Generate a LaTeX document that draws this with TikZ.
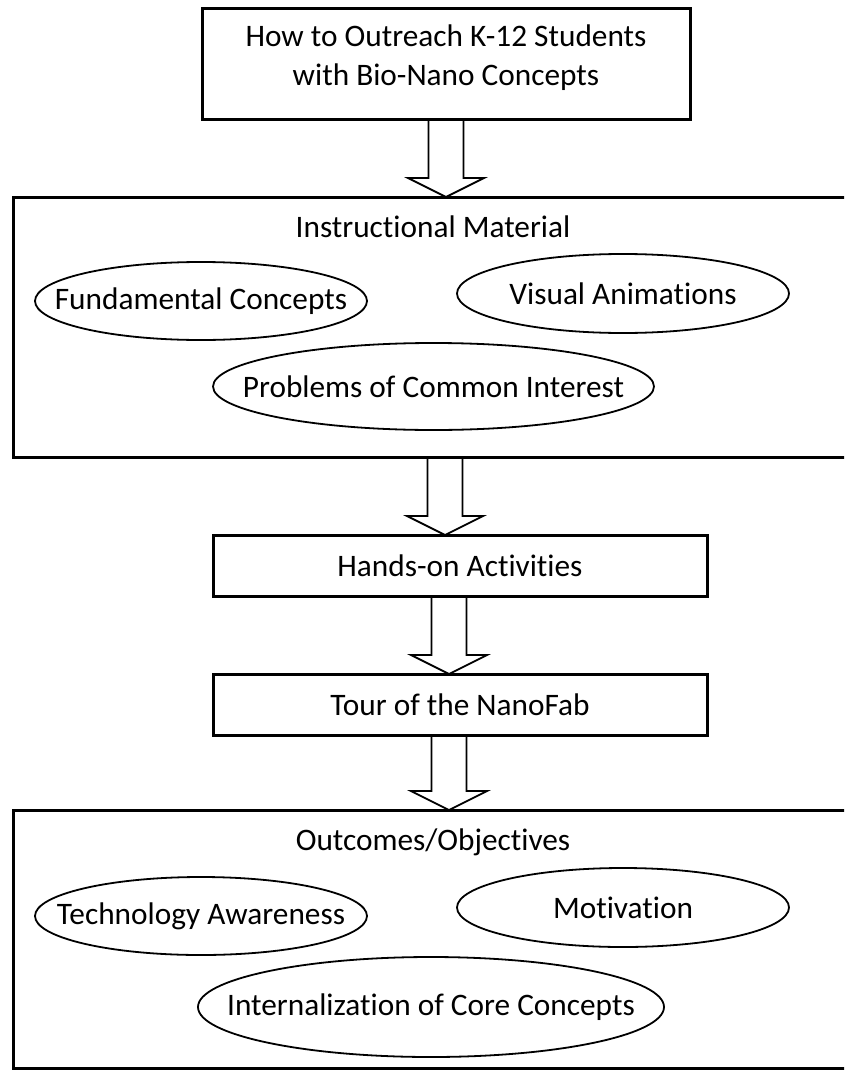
\documentclass[tikz,border=0pt]{standalone}
\usepackage{fontspec}
\setmainfont{Carlito}[Ligatures={NoCommon}]
\usetikzlibrary{shapes.geometric,calc,backgrounds}
\begin{document}
\begin{tikzpicture}[x=1pt,y=-1pt,
  txt/.style={font=\fontsize{31.3}{39}\selectfont, inner sep=0pt, text=black},
  box/.style={draw, line width=3pt, fill=white, rectangle, inner sep=0pt, outer sep=0pt, txt},
  oval/.style={draw, line width=1.8pt, ellipse, inner sep=0pt, outer sep=0pt},
  blockarr/.style={draw, line width=1.8pt, fill=white, line join=miter,
    to path={let \p1=(\tikztostart), \p2=(\tikztotarget) in
      (\x1-17.5pt,\y1) -- (\x1-17.5pt,\y2+19pt) -- (\x1-38pt,\y2+19pt) -- (\x1,\y2)
      -- (\x1+38pt,\y2+19pt) -- (\x1+17.5pt,\y2+19pt) -- (\x1+17.5pt,\y1)}}]
\clip (0,0) rectangle (844,1070);

% boxes
\node[box, minimum width=488pt, minimum height=111pt] (b1) at (446,64.5) {};
\node[txt, align=center] (t1) at (446,57.5) {How to Outreach K-12 Students\\with Bio-Nano Concepts};

\node[box, minimum width=840pt, minimum height=260pt] (b2) at (433,327) {};
\node[txt] (t2) at (433,227) {Instructional Material};
\node[oval, minimum width=332pt, minimum height=78pt, label={[txt]center:Fundamental Concepts}] (f) at (201,301) {};
\node[oval, minimum width=332pt, minimum height=79pt, label={[txt]center:Visual Animations}] (v) at (623,293.5) {};
\node[oval, minimum width=441pt, minimum height=87pt, label={[txt]center:Problems of Common Interest}] (p) at (433.5,386.5) {};

\node[box, minimum width=494pt, minimum height=61pt] (b3) at (460,565.5) {Hands-on Activities};
\node[box, minimum width=494pt, minimum height=61pt] (b4) at (460,704.5) {Tour of the NanoFab};

\node[box, minimum width=840pt, minimum height=258pt] (b5) at (433,939) {};
\node[txt] (t5) at (433,842) {Outcomes/Objectives};
\node[oval, minimum width=332pt, minimum height=78pt, label={[txt]center:Technology Awareness}] (ta) at (201,916) {};
\node[oval, minimum width=332pt, minimum height=79pt, label={[txt]center:Motivation}] (m) at (623,907.5) {};
\node[oval, minimum width=466pt, minimum height=100pt, label={[txt]center:Internalization of Core Concepts}] (ic) at (431,1007) {};

% block arrows
\begin{pgfonlayer}{background}
\draw[blockarr] (b1.south) to (b2.north);
\draw[blockarr] ([xshift=12pt]b2.south) to (b3.north);
\draw[blockarr] ([xshift=-11pt]b3.south) to (b4.north);
\draw[blockarr] ([xshift=-11pt]b4.south) to (b5.north);
\end{pgfonlayer}
\end{tikzpicture}
\end{document}
